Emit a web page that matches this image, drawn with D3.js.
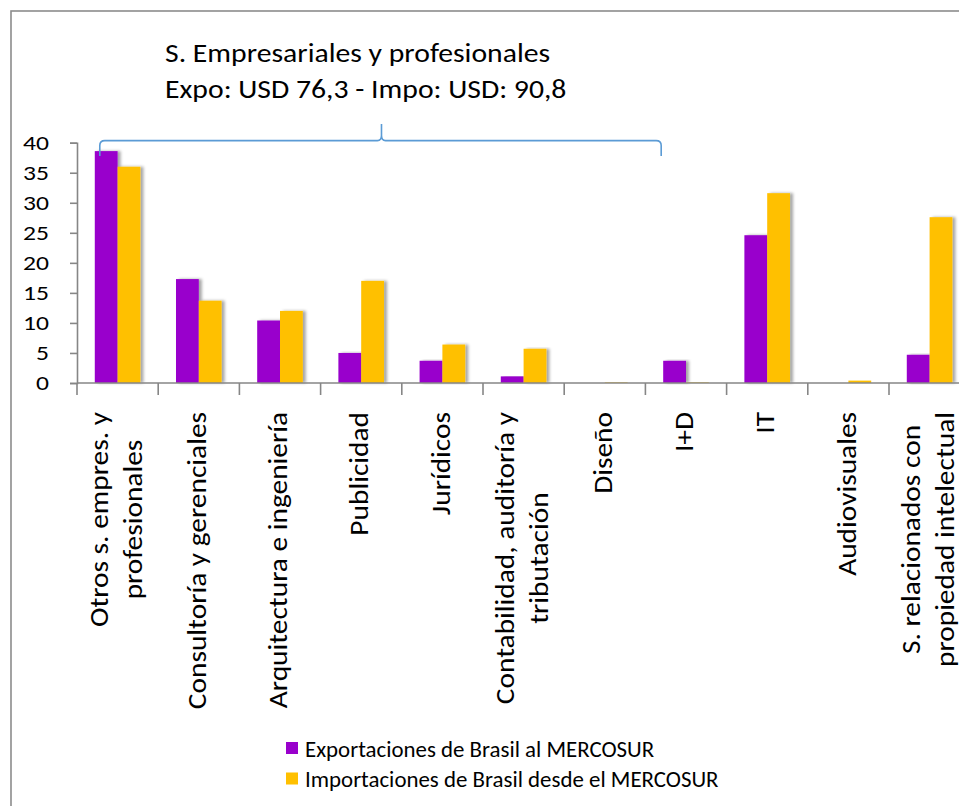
<!DOCTYPE html>
<html>
<head>
<meta charset="utf-8">
<script src="https://cdn.jsdelivr.net/npm/d3@7"></script>
<style>
  body { margin: 0; background: #fff; }
  svg { display: block; font-family: Carlito, Calibri, Lato, sans-serif; }
</style>
</head>
<body>
<div id="chart"></div>
<script>
// Chart data
const categories = [
  ["Otros s. empres. y", "profesionales"],
  ["Consultoría y gerenciales"],
  ["Arquitectura e ingeniería"],
  ["Publicidad"],
  ["Jurídicos"],
  ["Contabilidad, auditoría y", "tributación"],
  ["Diseño"],
  ["I+D"],
  ["IT"],
  ["Audiovisuales"],
  ["S. relacionados con", "propiedad intelectual"]
];
const exportaciones = [38.6, 17.3, 10.4, 5.0, 3.7, 1.1, 0, 3.7, 24.6, 0, 4.7];
const importaciones = [36.0, 13.7, 12.0, 17.0, 6.4, 5.7, 0.1, 0.1, 31.6, 0.4, 27.6];
const seriesNames = ["Exportaciones de Brasil al MERCOSUR", "Importaciones de Brasil desde el MERCOSUR"];
const seriesColors = ["#9900cc", "#ffc000"];
const yTicks = [0, 5, 10, 15, 20, 25, 30, 35, 40];
const titleLines = ["S. Empresariales y profesionales", "Expo: USD 76,3 - Impo: USD: 90,8"];

const W = 959, H = 806;
const svg = d3.select("#chart").append("svg")
    .attr("width", W).attr("height", H);

svg.append("rect").attr("width", W).attr("height", H).attr("fill", "#fff");

// the fallback font is narrower than Calibri, so widen texts a little
function widen(sel, k) {
    sel.each(function () {
        const n = this.getComputedTextLength();
        d3.select(this).attr("textLength", n * k).attr("lengthAdjust", "spacingAndGlyphs");
    });
}

// drop shadow like the Excel bars
const defs = svg.append("defs");
defs.append("filter").attr("id", "shadow")
    .attr("x", "-20%").attr("y", "-5%").attr("width", "160%").attr("height", "110%")
  .append("feDropShadow")
    .attr("dx", 3).attr("dy", 0).attr("stdDeviation", 1.8)
    .attr("flood-color", "#000").attr("flood-opacity", 0.35);

// outer frame (cut by the picture edge on the right and bottom)
svg.append("rect")
    .attr("x", 11).attr("y", 11)
    .attr("width", W + 20).attr("height", H + 20)
    .attr("fill", "none").attr("stroke", "#8c8c8c").attr("stroke-width", 1.6);

const plotLeft = 77, plotBase = 383, plotTop = 142.7, step = 81.2;
const keys = categories.map(d => d.join(" "));

const x0 = d3.scaleBand().domain(keys).range([plotLeft, plotLeft + step * keys.length]).paddingInner(0).paddingOuter(0);
const x1 = d3.scaleBand().domain([0, 1]).range([0, x0.bandwidth()]).paddingInner(0).paddingOuter(0.78);
const y = d3.scaleLinear().domain([0, 40]).range([plotBase, plotTop]);

// y axis
const yAxis = svg.append("g")
    .attr("transform", `translate(${plotLeft},0)`)
    .call(d3.axisLeft(y).tickValues(yTicks).tickSize(7).tickPadding(21));
yAxis.select(".domain").attr("stroke", "#868686").attr("stroke-width", 1.6);
yAxis.selectAll(".tick line").attr("stroke", "#868686").attr("stroke-width", 1.6);
yAxis.selectAll(".tick text")
    .attr("fill", "#000").style("font-size", "21px").style("font-family", "Carlito, Calibri, Lato, sans-serif")
    .call(widen, 1.22);

// bars
const groups = svg.append("g").selectAll("g").data(keys).join("g")
    .attr("transform", d => `translate(${x0(d)},0)`);

groups.selectAll("rect")
    .data((d, i) => [exportaciones[i], importaciones[i]].map((v, s) => ({ s, v })))
    .join("rect")
    .attr("x", d => x1(d.s))
    .attr("width", x1.bandwidth())
    .attr("y", d => y(d.v))
    .attr("height", d => plotBase - y(d.v))
    .attr("fill", d => seriesColors[d.s])
    .attr("filter", d => d.v > 0.5 ? "url(#shadow)" : null);

// x axis: line plus ticks on category boundaries
const xAxis = svg.append("g");
xAxis.append("line")
    .attr("x1", plotLeft).attr("x2", x0.range()[1])
    .attr("y1", plotBase).attr("y2", plotBase)
    .attr("stroke", "#868686").attr("stroke-width", 1.6);
xAxis.selectAll(".xt").data(keys).join("line")
    .attr("class", "xt")
    .attr("x1", d => x0(d)).attr("x2", d => x0(d))
    .attr("y1", plotBase).attr("y2", plotBase + 12)
    .attr("stroke", "#868686").attr("stroke-width", 1.6);

// rotated category labels, top aligned under the axis, lines centred
const labelTop = 412, fs = 26, pitch = 34, labelK = 1.13;
categories.forEach((lines, i) => {
    const cx = x0(keys[i]) + x0.bandwidth() / 2;
    const g = svg.append("g");
    const texts = lines.map((ln, j) => g.append("text")
        .text(ln)
        .attr("text-anchor", "middle")
        .style("font-size", fs + "px")
        .attr("fill", "#000"));
    texts.forEach(t => widen(t, labelK));
    const maxLen = d3.max(texts, t => +t.attr("textLength"));
    texts.forEach((t, j) => {
        const bx = cx + (j - (lines.length - 1) / 2) * pitch + fs * 0.28;
        t.attr("transform", `translate(${bx},${labelTop + maxLen / 2}) rotate(-90)`);
    });
});

// brace over the business-services group
const bl = x0(keys[0]) + x1(0) + 5;
const br = x0(keys[7]) + x1(0) - 2;
const bm = (bl + br) / 2 + 1;
const yLine = y(40.35), yEnd = y(37.8), yTip = y(43.1);
const brace = d3.path();
brace.moveTo(bl, yEnd);
brace.lineTo(bl, yLine + 5);
brace.quadraticCurveTo(bl, yLine, bl + 5, yLine);
brace.lineTo(bm - 4, yLine);
brace.quadraticCurveTo(bm, yLine, bm, yLine - 5);
brace.lineTo(bm, yTip);
brace.moveTo(bm, yLine - 5);
brace.quadraticCurveTo(bm, yLine, bm + 4, yLine);
brace.lineTo(br - 5, yLine);
brace.quadraticCurveTo(br, yLine, br, yLine + 5);
brace.lineTo(br, yEnd);
svg.append("path").attr("d", brace.toString())
    .attr("fill", "none").attr("stroke", "#5b9bd5").attr("stroke-width", 1.6);

// annotation title
svg.selectAll(".ttl").data(titleLines).join("text")
    .attr("class", "ttl")
    .attr("x", 165).attr("y", (d, i) => 62 + i * 36)
    .style("font-size", "27px")
    .attr("fill", "#000")
    .text(d => d)
    .call(widen, 1.1);

// legend
const leg = svg.append("g").selectAll("g").data(seriesNames).join("g")
    .attr("transform", (d, i) => `translate(286,${742 + i * 30.5})`);
leg.append("rect").attr("width", 12).attr("height", 12)
    .attr("fill", (d, i) => seriesColors[i]);
leg.append("text").attr("x", 19).attr("y", 14.5)
    .style("font-size", "22px").attr("fill", "#000")
    .text(d => d)
    .call(widen, 1.04);
</script>
</body>
</html>
